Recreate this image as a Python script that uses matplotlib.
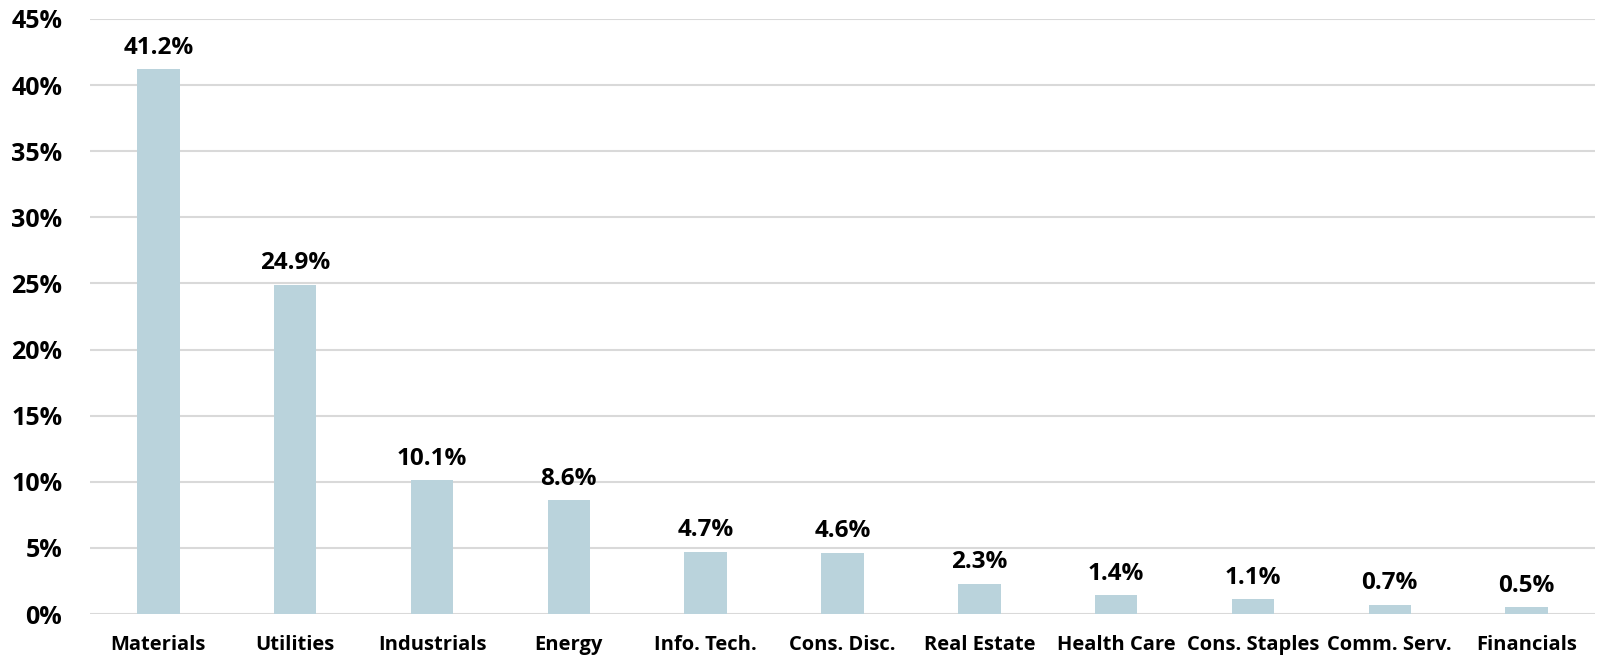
import matplotlib.pyplot as plt
from matplotlib.ticker import PercentFormatter

sectors = ["Materials", "Utilities", "Industrials", "Energy", "Info. Tech.",
           "Cons. Disc.", "Real Estate", "Health Care", "Cons. Staples",
           "Comm. Serv.", "Financials"]
shares = [41.2, 24.9, 10.1, 8.6, 4.7, 4.6, 2.3, 1.4, 1.1, 0.7, 0.5]
y_ticks = [0, 5, 10, 15, 20, 25, 30, 35, 40, 45]

plt.rcParams["font.family"] = ["Open Sans", "DejaVu Sans"]
plt.rcParams["font.weight"] = "bold"

fig = plt.figure(figsize=(16.01, 6.6), dpi=100)
ax = fig.add_axes([90 / 1601, 1 - 614 / 660, 1505 / 1601, 595 / 660])

x = range(len(sectors))
bars = ax.bar(x, shares, width=0.31, color="#BAD3DC", zorder=2)
for rect, v in zip(bars, shares):
    ax.annotate(f"{v:.1f}%", (rect.get_x() + rect.get_width() / 2, v),
                xytext=(0, 7), textcoords="offset points",
                ha="center", va="bottom", fontsize=17.5, fontweight="bold")

ax.set_xlim(-0.5, len(sectors) - 0.5)
ax.set_ylim(0, 45)
ax.set_yticks(y_ticks)
ax.yaxis.set_major_formatter(PercentFormatter(decimals=0))
ax.set_xticks(list(x))
ax.set_xticklabels(sectors, fontsize=14.5, fontweight="bold")
ax.tick_params(axis="y", labelsize=18, length=0, pad=20)
ax.tick_params(axis="x", length=0, pad=15)
ax.grid(axis="y", color="#D9D9D9", linewidth=1.5, zorder=0)
for s in ax.spines.values():
    s.set_visible(False)

fig.savefig("out.png", dpi=100)
